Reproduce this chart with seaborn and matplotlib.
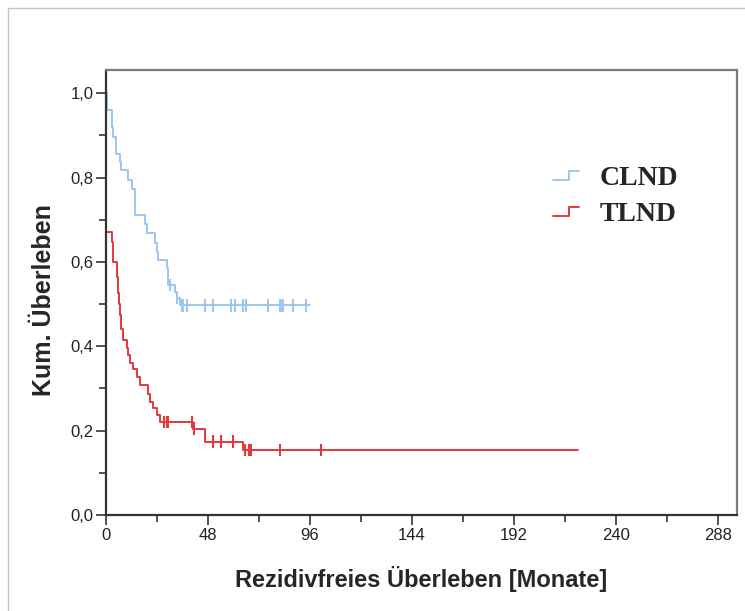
import numpy as np
import pandas as pd
import seaborn as sns
import matplotlib.pyplot as plt
from matplotlib.lines import Line2D
from matplotlib.legend_handler import HandlerBase
from matplotlib.patches import Rectangle
from matplotlib.ticker import MultipleLocator, FuncFormatter

# Kaplan-Meier step data (months, cumulative survival)
clnd_time = [0, 0.5, 2.7, 3.4, 4.5, 6.6, 7.0, 10.5, 12.1, 13.6, 18.3, 19.1, 23.0,
             23.8, 24.6, 28.5, 29.3, 32.4, 33.2, 34.8, 96.0]
clnd_surv = [1.0, 0.961, 0.920, 0.896, 0.857, 0.837, 0.817, 0.794, 0.774, 0.711,
             0.691, 0.668, 0.644, 0.624, 0.604, 0.585, 0.545, 0.529, 0.514, 0.497, 0.497]
clnd_censor = [30.0, 33.6, 35.6, 36.3, 37.9, 46.5, 50.3, 59.0, 60.6, 64.5, 66.0,
               76.3, 81.8, 82.6, 83.3, 88.0, 94.3]

tlnd_time = [0, 0, 2.7, 3.4, 5.0, 5.8, 6.2, 6.6, 7.0, 8.1, 9.7, 10.5, 11.3, 12.8,
             14.4, 16.0, 19.9, 20.7, 22.2, 23.8, 25.4, 41.0, 46.5, 64.5, 222.0]
tlnd_surv = [1.0, 0.671, 0.648, 0.600, 0.565, 0.526, 0.500, 0.475, 0.442, 0.415,
             0.395, 0.380, 0.360, 0.345, 0.328, 0.308, 0.288, 0.268, 0.253, 0.237,
             0.221, 0.205, 0.174, 0.154, 0.154]
tlnd_censor = [27.2, 28.5, 29.3, 40.3, 41.5, 50.4, 54.3, 59.8, 65.2, 67.5, 68.3,
               81.8, 101.4]

groups = ['CLND', 'TLND']
colors = {'CLND': '#9cc7f2', 'TLND': '#e2393c'}


def censor_levels(times, surv, cens):
    idx = np.searchsorted(times, cens, side='right') - 1
    return np.array(surv)[idx]


curves = pd.concat([
    pd.DataFrame({'Monate': clnd_time, 'Surv': clnd_surv, 'Gruppe': 'CLND'}),
    pd.DataFrame({'Monate': tlnd_time, 'Surv': tlnd_surv, 'Gruppe': 'TLND'}),
], ignore_index=True)
censored = pd.concat([
    pd.DataFrame({'Monate': clnd_censor,
                  'Surv': censor_levels(clnd_time, clnd_surv, clnd_censor), 'Gruppe': 'CLND'}),
    pd.DataFrame({'Monate': tlnd_censor,
                  'Surv': censor_levels(tlnd_time, tlnd_surv, tlnd_censor), 'Gruppe': 'TLND'}),
], ignore_index=True)

sns.set_style('white')
plt.rcParams['font.family'] = ['Liberation Sans', 'DejaVu Sans']

fig = plt.figure(figsize=(7.45, 6.11), dpi=100)
ax = fig.add_axes([106 / 745, 1 - 515 / 611, 631 / 745, 445 / 611])

# grey frame round the picture
fig.patches.append(Rectangle((8 / 745, -0.05), 1.2, 1 - 8 / 611 + 0.05, transform=fig.transFigure,
                             fill=False, edgecolor='#c4c4c4', linewidth=1.0))

sns.lineplot(data=curves, x='Monate', y='Surv', hue='Gruppe', palette=colors,
             estimator=None, sort=False, drawstyle='steps-post', linewidth=1.4,
             legend=False, ax=ax)
sns.scatterplot(data=censored, x='Monate', y='Surv', hue='Gruppe', palette=colors,
                marker='|', s=80, linewidth=1.5, legend=False, ax=ax, zorder=3)

ax.set_xlim(0, 297)
ax.set_ylim(0, 1.055)
ax.xaxis.set_major_locator(MultipleLocator(48))
ax.xaxis.set_minor_locator(MultipleLocator(24))
ax.yaxis.set_major_locator(MultipleLocator(0.2))
ax.yaxis.set_minor_locator(MultipleLocator(0.1))
ax.yaxis.set_major_formatter(FuncFormatter(lambda v, p: f'{v:.1f}'.replace('.', ',')))

ax.tick_params(which='major', direction='out', length=7, width=1.2, color='#333333',
               labelsize=12, labelcolor='#222222', pad=2, bottom=True, left=True)
ax.tick_params(which='minor', direction='out', length=5, width=1.2, color='#333333',
               bottom=True, left=True)

for side in ['left', 'bottom']:
    ax.spines[side].set_color('#333333')
    ax.spines[side].set_linewidth(1.6)
for side in ['top', 'right']:
    ax.spines[side].set_color('#7a7a7a')
    ax.spines[side].set_linewidth(1.6)

ax.set_xlabel('Rezidivfreies Überleben [Monate]', fontsize=17, fontweight='bold')
ax.set_ylabel('Kum. Überleben', fontsize=18, fontweight='bold')
ax.xaxis.set_label_coords(0.5, -0.115)
ax.yaxis.set_label_coords(-0.08, 0.483)


class StepHandler(HandlerBase):
    def create_artists(self, legend, orig_handle, xdescent, ydescent, width, height,
                       fontsize, trans):
        xs = [0, 0.62 * width, 0.62 * width, width]
        ys = [0.25 * height, 0.25 * height, 0.75 * height, 0.75 * height]
        line = Line2D(xs, ys, color=orig_handle.get_color(), linewidth=1.4, transform=trans)
        return [line]


handles = [Line2D([], [], color=colors[g]) for g in groups]
leg = ax.legend(handles, groups, handler_map={Line2D: StepHandler()},
                loc='upper left', bbox_to_anchor=(539 / 745, 1 - 152 / 611),
                bbox_transform=fig.transFigure, frameon=False, handlelength=0.95,
                handletextpad=0.75, labelspacing=0.38, borderpad=0,
                prop={'family': 'Liberation Serif', 'weight': 'bold', 'size': 20})

fig.savefig('out.png', dpi=100)
